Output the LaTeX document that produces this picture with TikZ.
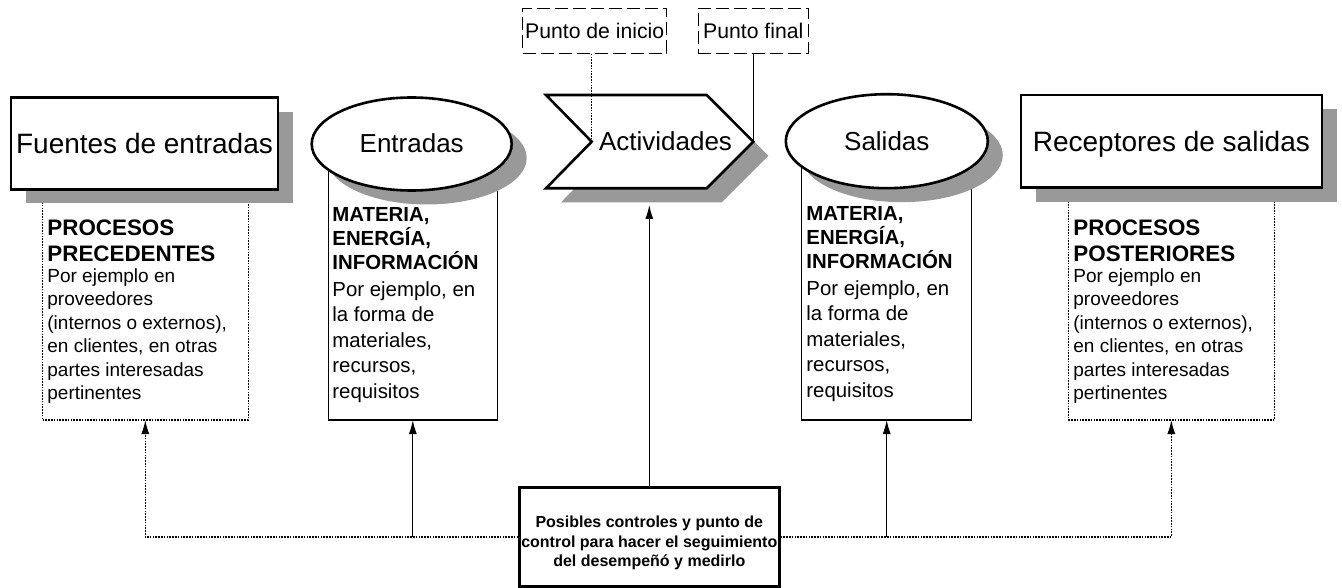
\documentclass[tikz,border=0pt]{standalone}
\usepackage{fontspec}
\setmainfont{Liberation Sans}
\usetikzlibrary{arrows.meta,shadows,positioning,shapes.geometric}
\definecolor{shadowgray}{RGB}{153,153,153}
\newcommand{\hdbig}[1]{{\fontsize{11.2pt}{13pt}\selectfont\bfseries #1}}

\begin{document}
\begin{tikzpicture}[
    x=0.5pt, y=-0.5pt,
    shadowed/.style={drop shadow={shadow xshift=7.5pt, shadow yshift=-7pt,
        opacity=1, fill=shadowgray}},
    headbox/.style={draw, line width=1.3pt, fill=white, shadowed,
        inner sep=0pt, text height=10pt, text depth=0pt,
        font=\fontsize{14pt}{16pt}\selectfont},
    ovalnode/.style={ellipse, draw, line width=1.3pt, fill=white, shadowed,
        minimum width=100pt, minimum height=46.5pt, inner sep=0pt,
        text height=9pt, text depth=0pt, font=\fontsize{13pt}{15pt}\selectfont},
    infoframe/.style={draw, line width=0.55pt, anchor=south,
        inner sep=0pt, outer sep=0pt},
    infotext/.style={anchor=north west, inner sep=0pt, align=left},
    smalltext/.style={infotext, font=\fontsize{9.5pt}{11.67pt}\selectfont},
    largetext/.style={infotext, font=\fontsize{10.2pt}{12.7pt}\selectfont},
    markbox/.style={draw, line width=0.6pt, dash pattern=on 6.5pt off 2.5pt,
        minimum height=22.5pt, inner sep=0pt, text height=7.7pt, text depth=0pt,
        font=\fontsize{10.6pt}{12pt}\selectfont},
    ctrlbox/.style={draw, line width=1.2pt, fill=white,
        minimum width=130pt, minimum height=49.5pt},
    ctrltext/.style={align=center, inner sep=0pt,
        font=\fontsize{8pt}{9.75pt}\selectfont\bfseries},
    wire/.style={line width=0.6pt},
    dotwire/.style={dash pattern=on 0.8pt off 0.6pt},
    uparrow/.style={-{Latex[length=7pt, width=4pt]}}]

    \useasboundingbox (0,0) rectangle (1342,588);

    % text frames

    \node[infoframe, minimum width=102.8pt, minimum height=112pt, dotwire]
        (srcframe) at (145.3,420) {};
    \node[infoframe, minimum width=84.5pt, minimum height=135pt]
        (inframe) at (412.8,420) {};
    \node[infoframe, minimum width=85pt, minimum height=135pt]
        (outframe) at (886.7,420) {};
    \node[infoframe, minimum width=103pt, minimum height=112pt, dotwire]
        (recframe) at (1171.3,420) {};

    \node[smalltext] (srctxt) at (47,219.3) {\hdbig{PROCESOS}\\[1.18pt]
        \hdbig{PRECEDENTES}\\[-0.87pt] Por ejemplo en\\ proveedores\\
        (internos o externos),\\ en clientes, en otras\\ partes interesadas\\
        pertinentes};
    \node[largetext] (intxt) at (332,207) {\textbf{MATERIA,}\\[-0.7pt]
        \textbf{ENERGÍA,}\\[-0.7pt] \textbf{INFORMACIÓN}\\[0.8pt]
        Por ejemplo, en\\ la forma de\\ materiales,\\ recursos,\\ requisitos};
    \node[largetext] (outtxt) at (806,206) {\textbf{MATERIA,}\\[-0.7pt]
        \textbf{ENERGÍA,}\\[-0.7pt] \textbf{INFORMACIÓN}\\[0.8pt]
        Por ejemplo, en\\ la forma de\\ materiales,\\ recursos,\\ requisitos};
    \node[smalltext] (rectxt) at (1073,219.3) {\hdbig{PROCESOS}\\[1.18pt]
        \hdbig{POSTERIORES}\\[-0.87pt] Por ejemplo en\\ proveedores\\
        (internos o externos),\\ en clientes, en otras\\ partes interesadas\\
        pertinentes};

    % process elements

    \node[headbox, minimum width=133.5pt, minimum height=45.8pt]
        (src) at (144.5,143.5) {Fuentes de entradas};
    \node[ovalnode] (in) at (411.7,144) {Entradas};

    \coordinate (actnotch) at (591.7,141.7);
    \coordinate (acttip) at (753.3,141.7);
    \coordinate (actfoot) at (649.3,205);
    \filldraw[line width=1.3pt, fill=white, shadowed]
        (546,95) -- (706.7,95) -- (acttip) -- (706.7,188.3)
        -- (546,188.3) -- (actnotch) -- cycle;
    \node[inner sep=0pt, text height=9pt, text depth=0pt,
        font=\fontsize{13pt}{15pt}\selectfont] (act) at (665.5,141.7) {Actividades};

    \node[ovalnode, minimum width=101pt, minimum height=47pt]
        (out) at (886.8,141.2) {Salidas};
    \node[headbox, minimum width=150.6pt, minimum height=46.3pt]
        (rec) at (1171.4,141.3) {Receptores de salidas};

    \node[markbox, minimum width=72pt] (start) at (594.7,30.8) {Punto de inicio};
    \node[markbox, minimum width=55pt] (finish) at (753.3,30.8) {Punto final};

    \node[ctrlbox] (ctrl) at (649.3,537) {};
    \node[ctrltext, yshift=-3pt] (ctrltxt) at (ctrl) {Posibles controles y punto de\\
        control para hacer el seguimiento\\ del desempeñó y medirlo};

    % edges

    \draw[wire, dotwire, uparrow] (ctrl.west) -| (srcframe.south);
    \draw[wire, uparrow] (inframe.south |- ctrl.west) -- (inframe.south);
    \draw[wire, uparrow] (ctrl.north) -- (actfoot);
    \draw[wire, uparrow] (outframe.south |- ctrl.east) -- (outframe.south);
    \draw[wire, dotwire, uparrow] (ctrl.east) -| (recframe.south);

    \draw[wire, dotwire] (start.south -| actnotch) -- (actnotch);
    \draw[wire] (finish.south) -- (acttip);
\end{tikzpicture}
\end{document}
